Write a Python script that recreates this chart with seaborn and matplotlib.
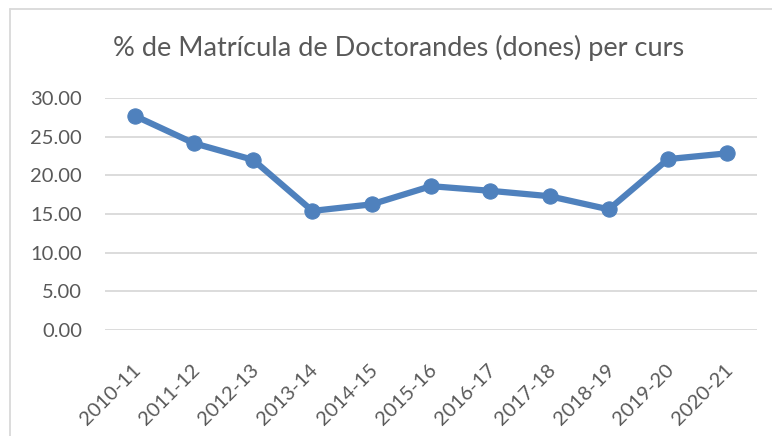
import matplotlib
matplotlib.use("Agg")
import matplotlib.pyplot as plt
import seaborn as sns
import pandas as pd
from matplotlib.lines import Line2D
from matplotlib.transforms import ScaledTranslation

cursos = ["2010-11", "2011-12", "2012-13", "2013-14", "2014-15", "2015-16",
          "2016-17", "2017-18", "2018-19", "2019-20", "2020-21"]
percentatge = [27.7, 24.15, 22.0, 15.4, 16.25, 18.6, 18.0, 17.3, 15.6, 22.1, 22.85]
yticks = [0, 5, 10, 15, 20, 25, 30]

sns.set_theme(style="white")
plt.rcParams['font.family'] = ['Lato', 'DejaVu Sans']

df = pd.DataFrame({"curs": cursos, "pct": percentatge})

fig = plt.figure(figsize=(7.72, 4.36), dpi=100)
ax = fig.add_axes([105/772, 1-330/436, (757-105)/772, (330-98)/436])

color = "#4F81BD"
sns.lineplot(data=df, x="curs", y="pct", ax=ax, color=color, linewidth=4.5,
             marker="o", markersize=11, markeredgecolor=color, sort=False)

ax.set_xlim(-0.5, len(cursos) - 0.5)
ax.set_ylim(0, 30)
ax.set_yticks(yticks)
ax.set_yticklabels([f"{v:.2f}" for v in yticks])
ax.yaxis.grid(True, color="#D9D9D9", linewidth=1.3)
ax.set_axisbelow(True)
for s in ax.spines.values():
    s.set_visible(False)
ax.set_xlabel("")
ax.set_ylabel("")
ax.tick_params(axis="y", colors="#595959", labelsize=14.5, length=0, pad=16.5)
ax.tick_params(axis="x", colors="#595959", labelsize=14.5, length=0, pad=0)
plt.setp(ax.get_xticklabels(), rotation=45, ha="right", va="center", rotation_mode="anchor")
for lab in ax.get_xticklabels():
    lab.set_transform(lab.get_transform() + ScaledTranslation(0.03, -0.37, fig.dpi_scale_trans))

fig.text(399/772, 1-48/436, "% de Matrícula de Doctorandes (dones) per curs",
         ha="center", va="center", fontsize=19.5, color="#595959")

fig.add_artist(Line2D([10/772, 1.0], [1-9/436, 1-9/436], color="#D9D9D9", linewidth=1.3))
fig.add_artist(Line2D([10/772, 10/772], [0, 1-9/436], color="#D9D9D9", linewidth=1.3))

fig.savefig("out.png", dpi=100, facecolor="white")
